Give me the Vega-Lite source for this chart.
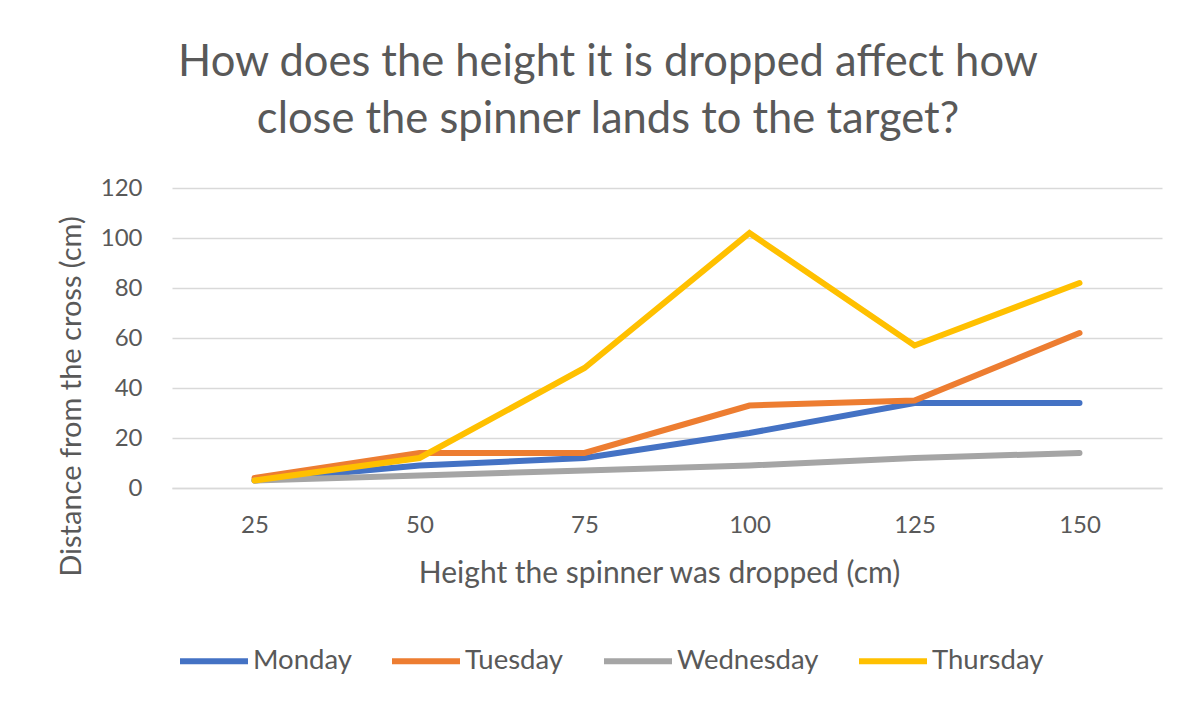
{
  "$schema": "https://vega.github.io/schema/vega-lite/v6.json",
  "width": 990,
  "height": 300,
  "autosize": {"type": "none"},
  "padding": {"left": 172, "top": 188, "right": 29, "bottom": 216},
  "background": "white",
  "title": {
    "text": ["How does the height it is dropped affect how", "close the spinner lands to the target?"],
    "font": "Lato",
    "fontSize": 43.5,
    "fontWeight": "normal",
    "color": "#595959",
    "anchor": "middle",
    "dx": -59,
    "offset": 34,
    "lineHeight": 57
  },
  "config": {
    "view": {"stroke": null},
    "font": "Lato"
  },
  "data": {
    "values": [
      {"height": "25", "day": "Monday", "distance": 3},
      {"height": "50", "day": "Monday", "distance": 9},
      {"height": "75", "day": "Monday", "distance": 12},
      {"height": "100", "day": "Monday", "distance": 22},
      {"height": "125", "day": "Monday", "distance": 34},
      {"height": "150", "day": "Monday", "distance": 34},
      {"height": "25", "day": "Tuesday", "distance": 4},
      {"height": "50", "day": "Tuesday", "distance": 14},
      {"height": "75", "day": "Tuesday", "distance": 14},
      {"height": "100", "day": "Tuesday", "distance": 33},
      {"height": "125", "day": "Tuesday", "distance": 35},
      {"height": "150", "day": "Tuesday", "distance": 62},
      {"height": "25", "day": "Wednesday", "distance": 3},
      {"height": "50", "day": "Wednesday", "distance": 5},
      {"height": "75", "day": "Wednesday", "distance": 7},
      {"height": "100", "day": "Wednesday", "distance": 9},
      {"height": "125", "day": "Wednesday", "distance": 12},
      {"height": "150", "day": "Wednesday", "distance": 14},
      {"height": "25", "day": "Thursday", "distance": 3},
      {"height": "50", "day": "Thursday", "distance": 12},
      {"height": "75", "day": "Thursday", "distance": 48},
      {"height": "100", "day": "Thursday", "distance": 102},
      {"height": "125", "day": "Thursday", "distance": 57},
      {"height": "150", "day": "Thursday", "distance": 82}
    ]
  },
  "mark": {"type": "line", "strokeWidth": 6, "strokeCap": "round", "strokeJoin": "miter"},
  "encoding": {
    "x": {
      "field": "height",
      "type": "ordinal",
      "sort": ["25", "50", "75", "100", "125", "150"],
      "scale": {"padding": 0.5},
      "axis": {
        "title": "Height the spinner was dropped (cm)",
        "labelAngle": 0,
        "labelFontSize": 24,
        "labelColor": "#595959",
        "labelPadding": 25,
        "ticks": false,
        "domain": true,
        "domainColor": "#D9D9D9",
        "domainWidth": 1.5,
        "grid": false,
        "titleFontSize": 30,
        "titleFontWeight": "normal",
        "titleColor": "#595959",
        "titlePadding": 21,
        "titleX": 487,
        "titleAlign": "center"
      }
    },
    "y": {
      "field": "distance",
      "type": "quantitative",
      "scale": {"domain": [0, 120], "nice": false},
      "axis": {
        "title": "Distance from the cross (cm)",
        "values": [0, 20, 40, 60, 80, 100, 120],
        "labelFontSize": 24,
        "labelColor": "#595959",
        "labelPadding": 30,
        "ticks": false,
        "domain": false,
        "grid": true,
        "gridColor": "#D9D9D9",
        "gridWidth": 1.5,
        "titleFontSize": 29,
        "titleFontWeight": "normal",
        "titleColor": "#595959",
        "titleX": -86,
        "titleY": 208
      }
    },
    "color": {
      "field": "day",
      "type": "nominal",
      "scale": {
        "domain": ["Monday", "Tuesday", "Wednesday", "Thursday"],
        "range": ["#4472C4", "#ED7D31", "#A5A5A5", "#FFC000"]
      },
      "legend": {
        "title": null,
        "orient": "none",
        "direction": "horizontal",
        "legendX": 5,
        "legendY": 436,
        "symbolType": "stroke",
        "symbolSize": 4624,
        "symbolStrokeWidth": 6,
        "labelFontSize": 27.5,
        "labelColor": "#595959",
        "labelOffset": 2,
        "columnPadding": 28
      }
    }
  }
}
